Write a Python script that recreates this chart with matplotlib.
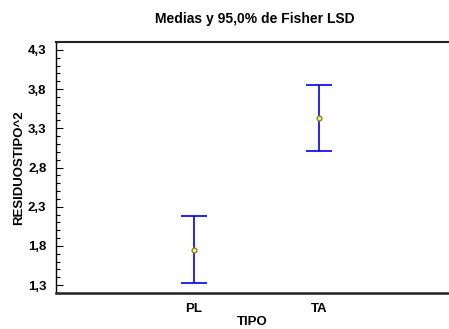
import matplotlib
matplotlib.use('Agg')
import matplotlib.pyplot as plt
from matplotlib.ticker import FixedLocator, MultipleLocator

plt.rcParams['font.family'] = ['Liberation Sans', 'DejaVu Sans']

# medias y limites LSD (95%)
tipos = ['PL', 'TA']
medias = [1.745, 3.43]
lim_inf = [1.325, 3.01]
lim_sup = [2.18, 3.85]

yticks = [1.3, 1.8, 2.3, 2.8, 3.3, 3.8, 4.3]
ytick_labels = ['1,3', '1,8', '2,3', '2,8', '3,3', '3,8', '4,3']

fig = plt.figure(figsize=(4.49, 3.29), dpi=100)
ax = fig.add_axes([56 / 449, 36 / 329, 1 - 56 / 449, 251 / 329])

xpos = [1, 2]
err_lo = [m - lo for m, lo in zip(medias, lim_inf)]
err_hi = [hi - m for m, hi in zip(medias, lim_sup)]
ax.errorbar(xpos, medias, yerr=[err_lo, err_hi], fmt='none', ecolor='#0000ee',
            elinewidth=1.2, capsize=9.5, capthick=1.2)
ax.plot(xpos, medias, 'o', ms=3.5, mfc='#f0eab0', mec='#8a8a10', mew=1, zorder=3)

ax.set_xlim(-0.1, 3.04)
ax.set_ylim(1.2, 4.4)
ax.set_xticks(xpos)
ax.set_xticklabels(tipos, fontsize=9.5, fontweight='bold')
ax.yaxis.set_major_locator(FixedLocator(yticks))
ax.set_yticklabels(ytick_labels, fontsize=9.5, fontweight='bold')
ax.yaxis.set_minor_locator(MultipleLocator(0.1))
ax.tick_params(axis='y', which='major', direction='in', length=5, width=0.8, pad=7)
ax.tick_params(axis='y', which='minor', direction='in', length=3, width=0.8)
ax.tick_params(axis='x', length=0, pad=7)

ax.spines['right'].set_visible(False)
ax.spines['top'].set_linewidth(1.5)
ax.spines['bottom'].set_linewidth(1.8)
ax.spines['top'].set_color('#222222')
ax.spines['bottom'].set_color('#222222')
ax.spines['left'].set_linewidth(1)

ax.set_xlabel('TIPO', fontsize=9.5, fontweight='bold', labelpad=1)
ax.set_ylabel('RESIDUOSTIPO^2', fontsize=9.5, fontweight='bold', labelpad=2)
fig.text(255 / 449, 1 - 18.5 / 329, 'Medias y 95,0% de Fisher LSD', ha='center', va='center',
         fontsize=10, fontweight='bold')

fig.savefig('out.png', dpi=100)
